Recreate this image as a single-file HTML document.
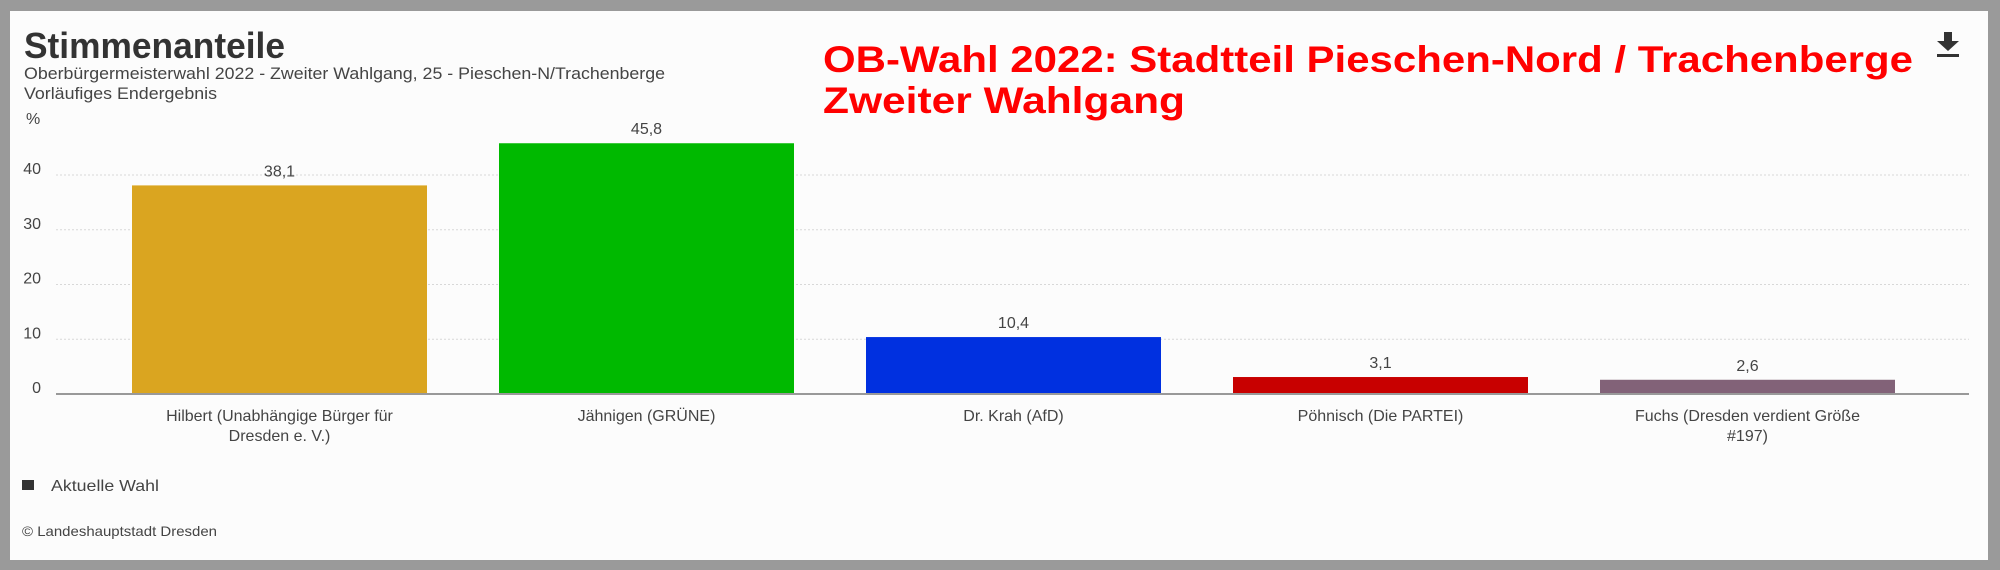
<!DOCTYPE html>
<html><head><meta charset="utf-8"><style>
html,body{margin:0;padding:0;background:#9a9a9a;}
svg{display:block;}
text{font-family:"Liberation Sans",sans-serif;}
</style></head><body>
<svg width="2000" height="570" viewBox="0 0 2000 570" xmlns="http://www.w3.org/2000/svg">
<rect x="0" y="0" width="2000" height="570" fill="#9a9a9a"/>
<rect x="10" y="11" width="1978" height="549" fill="#fcfcfc"/>
<text x="24" y="58" font-size="36" font-weight="bold" fill="#333" textLength="261" lengthAdjust="spacingAndGlyphs">Stimmenanteile</text>
<text x="24" y="79" font-size="17" fill="#444" textLength="641" lengthAdjust="spacingAndGlyphs">Oberbürgermeisterwahl 2022 - Zweiter Wahlgang, 25 - Pieschen-N/Trachenberge</text>
<text x="24" y="99" font-size="17" fill="#444" textLength="193" lengthAdjust="spacingAndGlyphs">Vorläufiges Endergebnis</text>
<text x="823" y="72" font-size="37" font-weight="bold" fill="#f00" font-family="DejaVu Sans, sans-serif" textLength="1090" lengthAdjust="spacingAndGlyphs">OB-Wahl 2022: Stadtteil Pieschen-Nord / Trachenberge</text>
<text x="823" y="113" font-size="37" font-weight="bold" fill="#f00" font-family="DejaVu Sans, sans-serif" textLength="362" lengthAdjust="spacingAndGlyphs">Zweiter Wahlgang</text>
<g fill="#333">
<rect x="1944" y="32" width="8" height="10"/>
<polygon points="1937,41 1959,41 1948,51"/>
<rect x="1937" y="54" width="22" height="3"/>
</g>
<text x="26" y="124" font-size="16" fill="#444">%</text>
<g id="grid"></g>
<g id="bars"></g>
<rect x="22" y="480" width="12" height="10" fill="#333"/>
<text x="51" y="491" font-size="16" fill="#444" textLength="108" lengthAdjust="spacingAndGlyphs">Aktuelle Wahl</text>
<text x="22" y="536" font-size="14" fill="#444" textLength="195" lengthAdjust="spacingAndGlyphs">© Landeshauptstadt Dresden</text>
</svg>
<script>
const categories = [["Hilbert (Unabhängige Bürger für","Dresden e. V.)"],["Jähnigen (GRÜNE)"],["Dr. Krah (AfD)"],["Pöhnisch (Die PARTEI)"],["Fuchs (Dresden verdient Größe","#197)"]];
const values = [38.1, 45.8, 10.4, 3.1, 2.6];
const valueLabels = ["38,1","45,8","10,4","3,1","2,6"];
const colors = ["#daa520","#00b900","#0030e0","#c80000","#826278"];
const yTicks = [0,10,20,30,40];
const NS="http://www.w3.org/2000/svg";
const y0=394, perUnit=5.475, bandStart=96, band=367, barW=295;
const y=v=>y0-v*perUnit;
const xc=i=>bandStart+band*i+band/2;
function mk(tag,attrs,parent){const e=document.createElementNS(NS,tag);for(const k in attrs)e.setAttribute(k,attrs[k]);parent.appendChild(e);return e;}
const grid=document.getElementById('grid'), bars=document.getElementById('bars');
yTicks.forEach(t=>{
  if(t>0){const l=mk('line',{x1:56,x2:1969,y1:y(t),y2:y(t),stroke:'#d8d8d8','stroke-width':1,'stroke-dasharray':'2,2'},grid);
  
  }
  const tx=mk('text',{x:41,y:y(t)-1,'font-size':16,fill:'#444','text-anchor':'end'},grid);
  tx.textContent=t;
  
  
});
values.forEach((v,i)=>{
  const r=mk('rect',{x:xc(i)-barW/2,y:y(v),width:barW,height:y0-y(v),fill:colors[i]},bars);
  
  
  const lb=mk('text',{x:xc(i),y:y(v)-9,'font-size':16,fill:'#444','text-anchor':'middle'},bars);
  lb.textContent=valueLabels[i];
  
  
  categories[i].forEach((line,j)=>{
    const c=mk('text',{x:xc(i),y:421+j*20,'font-size':16,fill:'#444','text-anchor':'middle'},bars);
    c.textContent=line;
    
    
  });
});
const ax=mk('line',{x1:56,x2:1969,y1:y0,y2:y0,stroke:'#999','stroke-width':2},bars);


</script>
</body></html>
